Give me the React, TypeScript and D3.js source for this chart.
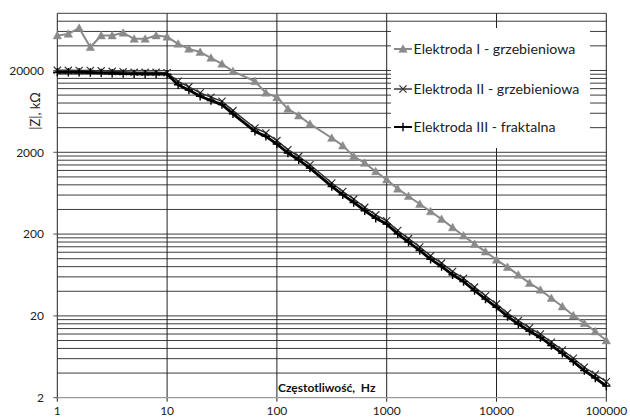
import React from "react";
import * as d3 from "d3";

const frequencies = [1, 1.26, 1.58, 2, 2.51, 3.16, 3.98, 5.01, 6.31, 7.94, 10, 12.6, 15.8, 20, 25.1, 31.6, 39.8, 63.1, 79.4, 100, 126, 158, 200, 316, 398, 501, 631, 794, 1000, 1260, 1580, 2000, 2510, 3160, 3980, 5010, 6310, 7940, 10000, 12600, 15800, 20000, 25100, 31600, 39800, 50100, 63100, 79400, 100000];

const electrode1 = [53500, 56000, 66000, 38500, 53500, 53500, 57700, 48700, 48700, 53500, 51600, 42300, 36700, 33600, 28500, 24100, 19550, 14760, 10640, 9400, 6780, 5610, 4440, 2990, 2410, 1782, 1479, 1167, 924, 716, 581, 466, 378, 305, 241, 191, 151, 122, 97, 79, 63.5, 50.3, 41.6, 32.9, 26.0, 20.2, 16.3, 12.9, 10.0];

const electrode2 = [20100, 20100, 20000, 20000, 19800, 19500, 19300, 19000, 19000, 19000, 18800, 14760, 12600, 10640, 9440, 8400, 6460, 3965, 3445, 2775, 2153, 1782, 1410, 842, 664, 536, 424, 344, 291, 221, 176, 139, 108.5, 88.3, 69.7, 57.8, 45.0, 35.3, 28.0, 21.6, 17.5, 14.3, 12.0, 9.55, 7.67, 6.07, 4.71, 3.87, 3.14];

const electrode3 = [19000, 19000, 19000, 18900, 18700, 18500, 18300, 18200, 18100, 18100, 18000, 13400, 11500, 9700, 8600, 7650, 5900, 3600, 3130, 2520, 1960, 1620, 1280, 765, 604, 487, 386, 313, 265, 201, 160, 126, 98.7, 80.4, 63.4, 52.6, 40.9, 32.1, 25.5, 19.7, 15.9, 13.0, 10.9, 8.7, 6.98, 5.52, 4.29, 3.48, 2.78];

const seriesNames = ["Elektroda I - grzebieniowa", "Elektroda II - grzebieniowa", "Elektroda III - fraktalna"];
const xTickValues = [1, 10, 100, 1000, 10000, 100000];
const xTickLabels = ["1", "10", "100", "1000", "10000", "100000"];
const yTickValues = [2, 20, 200, 2000, 20000];
const yTickLabels = ["2", "20", "200", "2000", "20000"];
const yMinorMultipliers = [2, 4, 6, 8, 10, 12, 14, 16, 18];
const xTitle = "Częstotliwość,  Hz";
const yTitle = "|Z|, kΩ";

const FONT = "Lato, 'Open Sans', sans-serif";

const x = d3.scaleLog().domain([1, 100000]).range([57.3, 606.3]);
const y = d3.scaleLog().domain([2, 100000]).range([397.7, 13.3]);

const gridY: number[] = [];
for (let k = 0; k <= 4; k++) {
  for (const m of yMinorMultipliers) {
    const v = m * Math.pow(10, k);
    if (v <= 100000 && v > 2) gridY.push(v);
  }
}

function Marker({ kind, cx, cy }: { kind: number; cx: number; cy: number }) {
  if (kind === 0) {
    const s = 4.2;
    return (
      <path
        d={`M${cx},${cy - s} L${cx + s},${cy + s * 0.8} L${cx - s},${cy + s * 0.8} Z`}
        fill="#8a8a8a"
        stroke="#8a8a8a"
        strokeWidth={0.5}
      />
    );
  }
  if (kind === 1) {
    const s = 3.6;
    return (
      <path
        d={`M${cx - s},${cy - s} L${cx + s},${cy + s} M${cx - s},${cy + s} L${cx + s},${cy - s}`}
        stroke="#333"
        strokeWidth={1.2}
        fill="none"
      />
    );
  }
  const s = 4.2;
  return (
    <path
      d={`M${cx - s},${cy} L${cx + s},${cy} M${cx},${cy - s} L${cx},${cy + s}`}
      stroke="#000"
      strokeWidth={1.4}
      fill="none"
    />
  );
}

export default function App() {
  const series = [electrode1, electrode2, electrode3];
  const lineStyles = [
    { stroke: "#8a8a8a", width: 2 },
    { stroke: "#2a2a2a", width: 1.4 },
    { stroke: "#000", width: 2.8 },
  ];
  const line = d3
    .line<[number, number]>()
    .x((d) => x(d[0]))
    .y((d) => y(d[1]));

  const legendX = 391;
  const legendYs = [49, 89, 127];

  return (
    <svg
      width={630}
      height={419}
      style={{ position: "absolute", left: 0, top: 0, display: "block", background: "#fff" }}
    >
      <rect x={0} y={0} width={630} height={419} fill="#fff" />
      {gridY.map((v, i) => (
        <line key={"gy" + i} x1={x(1)} x2={x(100000)} y1={y(v)} y2={y(v)} stroke="#3c3c3c" strokeWidth={1} />
      ))}
      {xTickValues.map((v, i) => (
        <line key={"gx" + i} x1={x(v)} x2={x(v)} y1={y(100000)} y2={y(2) + 4} stroke="#222" strokeWidth={1} />
      ))}
      <line x1={x(1)} x2={x(100000)} y1={y(2)} y2={y(2)} stroke="#9a9a9a" strokeWidth={1.2} />
      {yTickValues.map((v, i) => (
        <line key={"yt" + i} x1={x(1) - 4} x2={x(1)} y1={y(v)} y2={y(v)} stroke="#555" strokeWidth={1} />
      ))}
      {series.map((s, si) => {
        const pts = frequencies.map((f, i) => [f, s[i]] as [number, number]);
        return (
          <g key={"s" + si}>
            <path d={line(pts) || ""} fill="none" stroke={lineStyles[si].stroke} strokeWidth={lineStyles[si].width} strokeLinejoin="round" />
            {pts.map((p, i) => (
              <Marker key={i} kind={si} cx={x(p[0])} cy={y(p[1])} />
            ))}
          </g>
        );
      })}
      <rect x={legendX} y={28} width={199} height={120} fill="#fff" />
      {seriesNames.map((name, i) => (
        <g key={"lg" + i}>
          <line x1={394} x2={412} y1={legendYs[i]} y2={legendYs[i]} stroke={lineStyles[i].stroke} strokeWidth={Math.min(lineStyles[i].width, 2)} />
          <Marker kind={i} cx={403} cy={legendYs[i]} />
          <text x={413.5} y={legendYs[i] + 5} fontFamily={FONT} fontSize={14.2} fill="#222">
            {name}
          </text>
        </g>
      ))}
      {yTickValues.map((v, i) => (
        <text key={"yl" + i} x={44} y={y(v) + 4.3} textAnchor="end" fontFamily={FONT} fontSize={12} fill="#222">
          {yTickLabels[i]}
        </text>
      ))}
      {xTickValues.map((v, i) => (
        <text key={"xl" + i} x={x(v)} y={415} textAnchor="middle" fontFamily={FONT} fontSize={12} fill="#222">
          {xTickLabels[i]}
        </text>
      ))}
      <text x={278} y={392} fontFamily={FONT} fontSize={12} fontWeight="bold" fill="#111" style={{ whiteSpace: "pre" }}>
        {xTitle}
      </text>
      <text
        transform="translate(40,111) rotate(-90)"
        textAnchor="middle"
        fontFamily={FONT}
        fontSize={13}
        fill="#222"
      >
        {yTitle}
      </text>
    </svg>
  );
}
